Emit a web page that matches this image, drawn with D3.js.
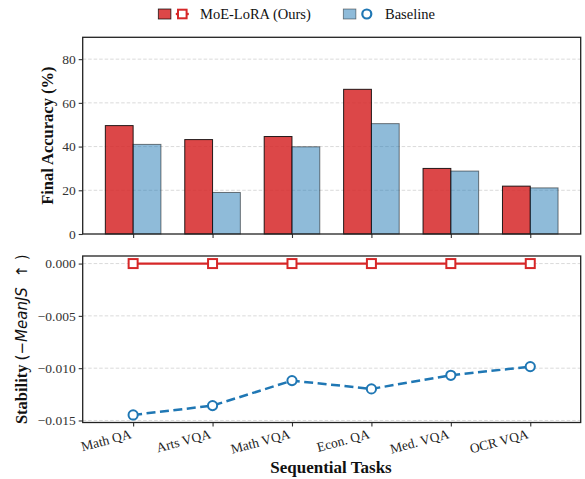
<!DOCTYPE html>
<html><head><meta charset="utf-8">
<script src="https://cdn.jsdelivr.net/npm/d3@7"></script>
<style>
body{margin:0;background:#fff;}
svg{display:block;font-family:"Liberation Serif","Times New Roman",serif;}
</style></head>
<body>
<svg id="chart" width="585" height="479"></svg>
<script>
const tasks = ["Math QA","Arts VQA","Math VQA","Econ. QA","Med. VQA","OCR VQA"];
const moeAcc = [49.6, 43.2, 44.6, 66.2, 30.0, 21.9];
const baseAcc = [41.0, 19.0, 39.9, 50.5, 28.8, 21.1];
const moeStab = [0, 0, 0, 0, 0, 0];
const baseStab = [-0.01447, -0.01358, -0.01119, -0.01198, -0.01068, -0.00985];
const accTicks = [0, 20, 40, 60, 80];
const stabTicks = [0, -0.005, -0.010, -0.015];
const seriesNames = ["MoE-LoRA (Ours)", "Baseline"];

const red = "#d62728", blue = "#1f77b4";
const svg = d3.select("#chart");
const L = 82.7, R = 580.7;
const n = tasks.length, bw = 0.35;
const x = d3.scaleLinear().domain([-bw - 0.05*(n-1+2*bw), n-1+bw + 0.05*(n-1+2*bw)]).range([L, R]);

// ---------- top panel ----------
const yT = d3.scaleLinear().domain([0, 90]).range([234, 37.3]);
const gT = svg.append("g");
gT.selectAll("line.grid").data(accTicks.filter(d=>d>0)).join("line")
  .attr("x1", L).attr("x2", R).attr("y1", d=>yT(d)).attr("y2", d=>yT(d))
  .attr("stroke", "#d0d0d0").attr("stroke-width", 0.8).attr("stroke-dasharray", "3.5,2");
gT.selectAll("rect.moe").data(moeAcc).join("rect")
  .attr("x", (d,i)=>x(i-bw)).attr("width", (d,i)=>x(i)-x(i-bw))
  .attr("y", d=>yT(d)).attr("height", d=>yT(0)-yT(d))
  .attr("fill", red).attr("fill-opacity", 0.85)
  .attr("stroke", "#000").attr("stroke-opacity", 0.85).attr("stroke-width", 1);
gT.selectAll("rect.base").data(baseAcc).join("rect")
  .attr("x", (d,i)=>x(i)).attr("width", (d,i)=>x(i+bw)-x(i))
  .attr("y", d=>yT(d)).attr("height", d=>yT(0)-yT(d))
  .attr("fill", blue).attr("fill-opacity", 0.5)
  .attr("stroke", "#000").attr("stroke-opacity", 0.5).attr("stroke-width", 1);
const axYT = gT.append("g").attr("transform", `translate(${L},0)`)
  .call(d3.axisLeft(yT).tickValues(accTicks).tickSize(4).tickPadding(3).tickFormat(d3.format("d")));
const axXT = gT.append("g").attr("transform", `translate(0,234)`)
  .call(d3.axisBottom(x).tickValues(d3.range(n)).tickSize(4).tickFormat(""));
gT.append("rect").attr("x", L).attr("y", 37.3).attr("width", R-L).attr("height", 234-37.3)
  .attr("fill", "none").attr("stroke", "#222").attr("stroke-width", 1.3);
gT.append("text").attr("transform", `translate(53,${(234+37.3)/2}) rotate(-90)`)
  .attr("text-anchor", "middle").attr("font-weight", "bold").attr("font-size", 16.5)
  .attr("fill", "#111").text("Final Accuracy (%)");

// ---------- bottom panel ----------
const sMin = d3.min(baseStab.concat(moeStab)), sMax = d3.max(baseStab.concat(moeStab));
const sPad = (sMax - sMin) * 0.05;
const yB = d3.scaleLinear().domain([sMin - sPad, sMax + sPad]).range([422.5, 256]);
const gB = svg.append("g");
gB.selectAll("line.grid").data(stabTicks).join("line")
  .attr("x1", L).attr("x2", R).attr("y1", d=>yB(d)).attr("y2", d=>yB(d))
  .attr("stroke", "#d0d0d0").attr("stroke-width", 0.8).attr("stroke-dasharray", "3.5,2");
const line = d3.line().x((d,i)=>x(i)).y(d=>yB(d));
gB.append("path").datum(baseStab).attr("d", line).attr("fill", "none")
  .attr("stroke", blue).attr("stroke-width", 2.5).attr("stroke-dasharray", "9,4.5");
gB.append("path").datum(moeStab).attr("d", line).attr("fill", "none")
  .attr("stroke", red).attr("stroke-width", 2.3);
gB.selectAll("circle.b").data(baseStab).join("circle")
  .attr("cx", (d,i)=>x(i)).attr("cy", d=>yB(d)).attr("r", 4.6)
  .attr("fill", "#fff").attr("stroke", blue).attr("stroke-width", 2);
gB.selectAll("rect.m").data(moeStab).join("rect")
  .attr("x", (d,i)=>x(i)-4.5).attr("y", d=>yB(d)-4.5).attr("width", 9).attr("height", 9)
  .attr("fill", "#fff").attr("stroke", red).attr("stroke-width", 2);
gB.append("g").attr("transform", `translate(${L},0)`)
  .call(d3.axisLeft(yB).tickValues(stabTicks).tickSize(4).tickPadding(3)
    .tickFormat(d => d3.format(".3f")(d).replace("-", "\u2212")));
const axXB = gB.append("g").attr("transform", `translate(0,422.5)`)
  .call(d3.axisBottom(x).tickValues(d3.range(n)).tickSize(4).tickFormat(""));
gB.selectAll("text.xl").data(tasks).join("text")
  .attr("transform", (d,i)=>`translate(${x(i)-1},${438}) rotate(-15)`)
  .attr("text-anchor", "end").attr("font-size", 13.5).attr("fill", "#222").text(d=>d);
gB.append("rect").attr("x", L).attr("y", 256).attr("width", R-L).attr("height", 422.5-256)
  .attr("fill", "none").attr("stroke", "#222").attr("stroke-width", 1.3);
const yl = gB.append("text").attr("transform", `translate(27,${(256+422.5)/2}) rotate(-90)`)
  .attr("text-anchor", "middle").attr("font-size", 16.5).attr("fill", "#111");
yl.append("tspan").attr("font-weight", "bold").text("Stability ");
yl.append("tspan").attr("font-family", "DejaVu Sans").attr("font-size", 15).text("(");
yl.append("tspan").attr("font-family", "DejaVu Sans").attr("font-size", 15).text("\u2212");
yl.append("tspan").attr("font-family", "DejaVu Sans").attr("font-style", "italic").attr("font-size", 15).text("MeanJS");
yl.append("tspan").attr("font-family", "DejaVu Sans").attr("font-size", 15).text(" \u00a0\u2191 )");
svg.append("text").attr("x", 331).attr("y", 473).attr("text-anchor", "middle")
  .attr("font-weight", "bold").attr("font-size", 17).attr("fill", "#111").text("Sequential Tasks");

// axis styles
svg.selectAll(".domain").remove();
svg.selectAll(".tick line").attr("stroke", "#333").attr("stroke-width", 1.1);
svg.selectAll(".tick text").attr("font-family", "Liberation Serif").attr("font-size", 13.5).attr("fill", "#333");

// ---------- legend ----------
const lg = svg.append("g");
const items = [
  {name: seriesNames[0], col: red, op: 0.85, x0: 158.3, tx: 200},
  {name: seriesNames[1], col: blue, op: 0.5, x0: 343.3, tx: 385}
];
items.forEach((it, k) => {
  lg.append("rect").attr("x", it.x0).attr("y", 9).attr("width", 12.6).attr("height", 10)
    .attr("fill", it.col).attr("fill-opacity", it.op).attr("stroke", "#000").attr("stroke-opacity", it.op).attr("stroke-width", 0.8);
  const cx = it.x0 + (k === 0 ? 24 : 23.5);
  if (k === 0) {
    lg.append("line").attr("x1", cx-6.5).attr("x2", cx+6.5).attr("y1", 14).attr("y2", 14)
      .attr("stroke", red).attr("stroke-width", 2.3);
    lg.append("rect").attr("x", cx-4.3).attr("y", 9.7).attr("width", 8.6).attr("height", 8.6)
      .attr("fill", "#fff").attr("stroke", red).attr("stroke-width", 2);
  } else {
    lg.append("circle").attr("cx", cx).attr("cy", 14).attr("r", 4.5)
      .attr("fill", "#fff").attr("stroke", blue).attr("stroke-width", 2.2);
  }
  lg.append("text").attr("x", it.tx).attr("y", 19).attr("font-size", 14.5).attr("fill", "#111").text(it.name);
});
</script>
</body></html>
